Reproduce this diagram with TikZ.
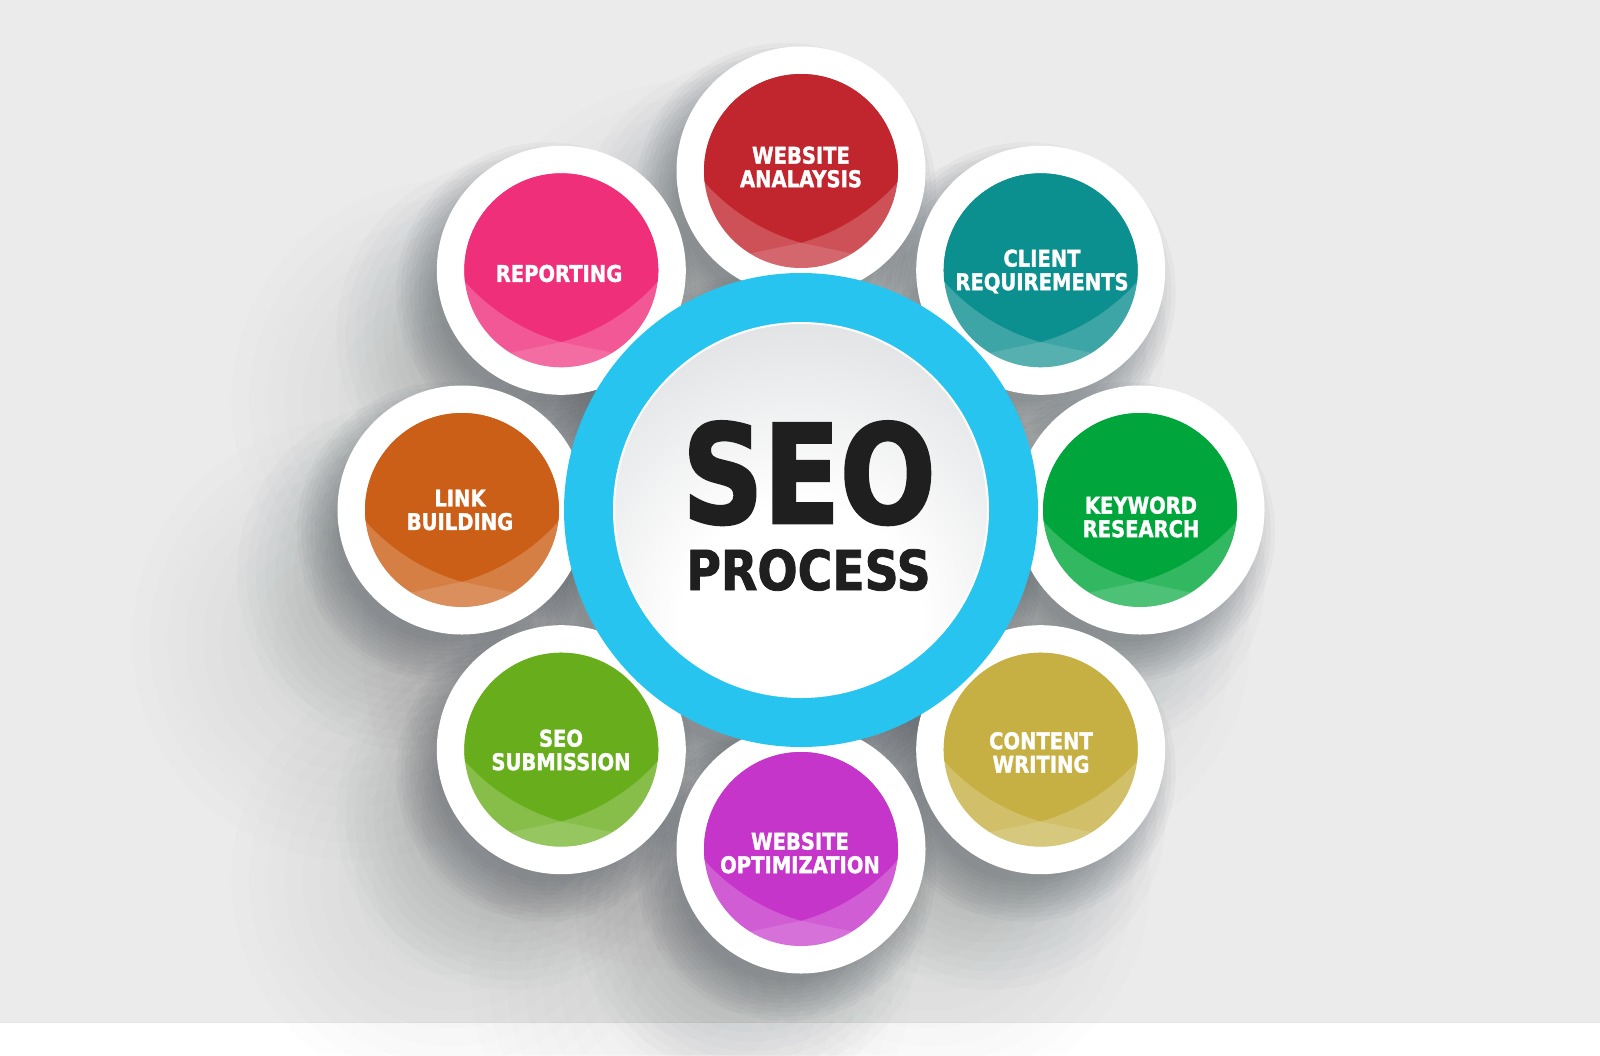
\documentclass[tikz,border=0pt]{standalone}
\usepackage{fontspec}
\newfontfamily\satfont[FakeStretch=0.85,FakeBold=1.4]{DejaVu Sans}
\newfontfamily\seofont[FakeStretch=0.82,FakeBold=2]{DejaVu Sans}
\newfontfamily\procfont[FakeStretch=0.86,FakeBold=1.5]{DejaVu Sans}
\definecolor{bgcol}{HTML}{EBEBEB}
\definecolor{ringblue}{HTML}{26C4EF}
\definecolor{ballgrey}{HTML}{C9CCCF}
\definecolor{darktext}{HTML}{1F1F1F}
\definecolor{shadowcol}{HTML}{3A444C}
\definecolor{cred}{HTML}{C1262E}
\definecolor{cteal}{HTML}{0C8F8F}
\definecolor{cgreen}{HTML}{00A63B}
\definecolor{colive}{HTML}{C6B043}
\definecolor{cmagenta}{HTML}{C535C9}
\definecolor{clime}{HTML}{68AE1C}
\definecolor{corange}{HTML}{CB5F17}
\definecolor{cpink}{HTML}{EF2F7A}
\pgfdeclareradialshading{ballshade}{\pgfpoint{0bp}{-18bp}}{color(0bp)=(white); color(16bp)=(white); color(54bp)=(ballgrey); color(100bp)=(ballgrey)}
\tikzset{
  satwhite/.style={circle, fill=white, minimum size=249pt, inner sep=0pt},
  sattext/.style={text=white, font=\satfont\bfseries\fontsize{23}{23.5}\selectfont, align=center, inner sep=0pt},
  seotext/.style={text=darktext, inner sep=0pt, anchor=base}
}
% soft shadow: centre #1, offset #2,#3, radii #4..#5, opacity per layer #6
\newcommand\softshadow[6]{%
  \foreach \k in {0,...,9}{
    \fill[shadowcol, fill opacity=#6] ([shift={(#2,#3)}]#1) circle ({#4+(#5-#4)*\k/9});
  }%
}
\newcommand\satel[5]{%
  \node[satwhite] (#1) at (#2) {};
  \begin{scope}[shift={(#2)}]
    \fill[#3!80!white] (0,0) circle (97);
    \begin{scope}
      \clip (0,0) circle (97);
      \begin{scope}
        \clip (56.3,-125.1) circle (204.7);
        \fill[#3] (-56.3,-125.1) circle (204.7);
      \end{scope}
      \fill[white, opacity=0.13] (-110,95) -- (0,71.8) -- (110,95) -- (110,110) -- (-110,110) -- cycle;
    \end{scope}
  \end{scope}
  \node[sattext] (#1-t) at (#4) {#5};
}
\begin{document}
\begin{tikzpicture}[x=1pt,y=-1pt]
\useasboundingbox (0,0) rectangle (1600,1055);
\fill[bgcol] (0,0) rectangle (1600,1022);
\fill[white] (0,1022) rectangle (1600,1055);
\draw[black!10, line width=1pt] (0,1022) -- (1600,1022);
\coordinate (C) at (801,510);
\coordinate (pWA) at (801,171);
\coordinate (pCR) at (1040.7,270.3);
\coordinate (pKR) at (1140,510);
\coordinate (pCW) at (1040.7,749.7);
\coordinate (pWO) at (801,849);
\coordinate (pSS) at (561.3,749.7);
\coordinate (pLB) at (462,510);
\coordinate (pRP) at (561.3,270.3);
\begin{scope}
  \clip (0,0) rectangle (1600,1055);
  \foreach \p in {pWA,pCR,pKR,pCW,pWO,pSS,pLB,pRP}{
    \softshadow{\p}{-110}{130}{60}{220}{0.008}
  }
  \softshadow{C}{-110}{130}{170}{330}{0.008}
  \foreach \p in {pWA,pCR,pKR,pCW,pWO,pSS,pLB,pRP}{
    \softshadow{\p}{-50}{65}{90}{175}{0.02}
  }
  \softshadow{C}{-50}{65}{200}{287}{0.02}
  \foreach \p in {pWA,pCR,pKR,pCW,pWO,pSS,pLB,pRP}{
    \softshadow{\p}{-15}{22}{110}{150}{0.04}
  }
  \softshadow{C}{-15}{22}{222}{262}{0.04}
\end{scope}
\satel{wa}{801,171}{cred}{801,167}{WEBSITE\\ANALAYSIS}
\satel{cr}{1040.7,270.3}{cteal}{1042,271.5}{CLIENT\\REQUIREMENTS}
\satel{kr}{1140,510}{cgreen}{1141,517}{KEYWORD\\RESEARCH}
\satel{cw}{1040.7,749.7}{colive}{1041,752.5}{CONTENT\\WRITING}
\satel{wo}{801,849}{cmagenta}{800,853}{WEBSITE\\OPTIMIZATION}
\satel{ss}{561.3,749.7}{clime}{561,750}{SEO\\SUBMISSION}
\satel{lb}{462,510}{corange}{460,510}{LINK\\BUILDING}
\satel{rp}{561.3,270.3}{cpink}{559,273.5}{REPORTING}
\node[circle, fill=ringblue, minimum size=474pt, inner sep=0pt] (ring) at (C) {};
\shade[shading=ballshade] (C) circle (187);
\draw[white, line width=2pt] (C) circle (187);
\node[seotext, text depth=0pt, font=\seofont\bfseries\fontsize{137}{137}\selectfont] (seo) at (809,523) {SEO};
\node[seotext, text height=41pt, font=\procfont\bfseries\fontsize{55}{55}\selectfont] (process) at (808.5,590) {PROCESS};
\end{tikzpicture}
\end{document}
